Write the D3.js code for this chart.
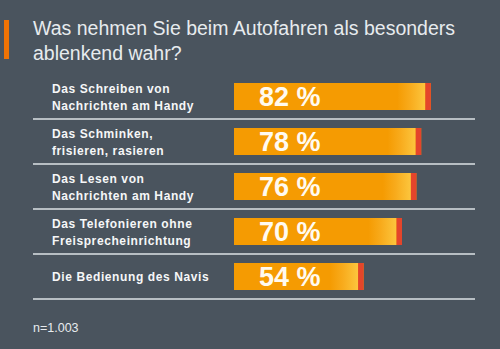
<!DOCTYPE html>
<html lang="de">
<head>
<meta charset="utf-8">
<title>Ablenkung beim Autofahren</title>
<script src="https://d3js.org/d3.v7.min.js"></script>
<style>
  html, body { margin: 0; padding: 0; background: #4a545e; }
  svg { display: block; font-family: "Liberation Sans", Arial, sans-serif; }
</style>
</head>
<body>
<script>
// ---- data ----
var titleLines = ["Was nehmen Sie beim Autofahren als besonders", "ablenkend wahr?"];
var categories = [
  ["Das Schreiben von", "Nachrichten am Handy"],
  ["Das Schminken,", "frisieren, rasieren"],
  ["Das Lesen von", "Nachrichten am Handy"],
  ["Das Telefonieren ohne", "Freisprecheinrichtung"],
  ["Die Bedienung des Navis"]
];
var values = [82, 78, 76, 70, 54];
var footnote = "n=1.003";

// ---- layout ----
var width = 500, height = 349;
var rowTop = 74, rowBottom = 299;
var barInset = 9, barH = 27;
var tipW = 5.5, fadeW = 28;

var svg = d3.select("body").append("svg")
  .attr("width", width)
  .attr("height", height);

svg.append("rect")
  .attr("width", width).attr("height", height)
  .attr("fill", "#4a545e");

var x = d3.scaleLinear().domain([0, 100]).range([234, 474]);
var rows = d3.scaleBand()
  .domain(d3.range(values.length))
  .range([rowTop, rowBottom]);

// gradient toward the end of each bar
var defs = svg.append("defs");
var grad = defs.append("linearGradient")
  .attr("id", "barEnd")
  .attr("x1", "0%").attr("x2", "100%");
grad.append("stop").attr("offset", "0%").attr("stop-color", "#f59b02");
grad.append("stop").attr("offset", "45%").attr("stop-color", "#f8ab1c");
grad.append("stop").attr("offset", "100%").attr("stop-color", "#fcc63e");

// title with accent mark
svg.append("rect")
  .attr("x", 4).attr("y", 20)
  .attr("width", 5).attr("height", 39)
  .attr("fill", "#ef7305");

svg.append("g")
  .selectAll("text")
  .data(titleLines)
  .join("text")
  .attr("x", 33)
  .attr("y", function(d, i) { return 35 + i * 25; })
  .attr("fill", "#e7ebee")
  .style("font-size", "19.5px")
  .text(function(d) { return d; });

// row separators
svg.append("g")
  .selectAll("line")
  .data(d3.range(values.length))
  .join("line")
  .attr("x1", 33).attr("x2", 475)
  .attr("y1", function(i) { return rows(i) + rows.bandwidth(); })
  .attr("y2", function(i) { return rows(i) + rows.bandwidth(); })
  .attr("stroke", "#dde2e6")
  .attr("stroke-width", 1.6);

var row = svg.append("g")
  .selectAll("g.row")
  .data(values)
  .join("g")
  .attr("class", "row")
  .attr("transform", function(d, i) { return "translate(0," + rows(i) + ")"; });

// category labels
row.each(function(d, i) {
  var lines = categories[i];
  var mid = rows.bandwidth() / 2;
  var g = d3.select(this);
  lines.forEach(function(t, j) {
    var y = lines.length === 1 ? mid + 4.5 : mid - 4 + j * 17;
    g.append("text")
      .attr("x", 52)
      .attr("y", y)
      .attr("fill", "#f6f7f8")
      .style("font-size", "12px")
      .style("font-weight", "bold")
      .style("letter-spacing", "0.6px")
      .text(t);
  });
});

// bars: orange body, fading end, red tip
row.append("rect")
  .attr("x", x(0))
  .attr("y", barInset)
  .attr("width", function(d) { return x(d) - x(0); })
  .attr("height", barH)
  .attr("fill", "#f59b02");

row.append("rect")
  .attr("x", function(d) { return x(d) - tipW - fadeW; })
  .attr("y", barInset)
  .attr("width", fadeW)
  .attr("height", barH)
  .attr("fill", "url(#barEnd)");

row.append("rect")
  .attr("x", function(d) { return x(d) - tipW; })
  .attr("y", barInset)
  .attr("width", tipW)
  .attr("height", barH)
  .attr("fill", "#e4452b");

// value labels
row.append("text")
  .attr("x", 259)
  .attr("y", barInset + barH / 2 + 9.5)
  .attr("fill", "#fffaf0")
  .style("font-size", "27px")
  .style("font-weight", "bold")
  .text(function(d) { return d + " %"; });

// sample size
svg.append("text")
  .attr("x", 33).attr("y", 332)
  .attr("fill", "#e7ebee")
  .style("font-size", "12.5px")
  .text(footnote);
</script>
</body>
</html>
